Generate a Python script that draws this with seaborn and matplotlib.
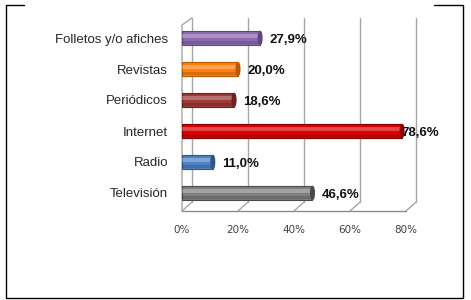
import numpy as np
import pandas as pd
import matplotlib
matplotlib.use('Agg')
import matplotlib.pyplot as plt
import matplotlib.transforms as mtrans
from matplotlib.lines import Line2D
from matplotlib.patches import Ellipse
import seaborn as sns

medios = ['Folletos y/o afiches', 'Revistas', 'Periódicos', 'Internet', 'Radio', 'Televisión']
porcentajes = [27.9, 20.0, 18.6, 78.6, 11.0, 46.6]
etiquetas = ['27,9%', '20,0%', '18,6%', '78,6%', '11,0%', '46,6%']
colores = ['#8A6BB0', '#FF7F0F', '#9B3A38', '#DD0000', '#4F81C7', '#7F7F7F']
bordes = ['#5E4680', '#B85A00', '#6A2322', '#8E0000', '#2F5689', '#4A4A4A']
ticks_x = [0, 20, 40, 60, 80]
ticks_txt = ['0%', '20%', '40%', '60%', '80%']

df = pd.DataFrame({'medio': medios, 'pct': porcentajes})

sns.set_style('white')
plt.rcParams['font.family'] = ['Liberation Sans', 'DejaVu Sans']

W, H = 471, 300
fig = plt.figure(figsize=(W / 100, H / 100), dpi=100)
# axes: x 0..80 -> px 182..406, y px 18..211
ax = fig.add_axes([182 / W, 1 - 211 / H, 224 / W, 193 / H])

sns.barplot(data=df, x='pct', y='medio', hue='medio', palette=colores, legend=False,
            orient='h', width=0.42, ax=ax, zorder=3, saturation=1)
for p, ec in zip(ax.patches, bordes):
    p.set_edgecolor(ec)
    p.set_linewidth(0.8)

ax.set_xlim(0, 80)
ax.set_ylim(5.5 + 2.5 / 31, -0.5 - 4.5 / 31)

# cylinder look: highlight band, lower shade and end cap
for i, v in enumerate(porcentajes):
    ax.barh(i - 0.07, v, height=0.13, color='white', alpha=0.28, zorder=4, linewidth=0)
    ax.barh(i + 0.14, v, height=0.1, color='black', alpha=0.15, zorder=4, linewidth=0)
    ax.add_patch(Ellipse((v, i), width=1.3, height=0.42, facecolor=bordes[i],
                         edgecolor=bordes[i], zorder=5))

# 3D frame (back wall gridlines, floor and left wall)
px_x = 80 / 224
px_y = 1 / 193
dx, dy = 10 * px_x, 9 * px_y
bt = mtrans.blended_transform_factory(ax.transData, ax.transAxes)
gc = '#A6A6A6'
for t in ticks_x:
    ax.plot([t + dx, t + dx], [dy, 1], color=gc, lw=1, transform=bt, zorder=1, clip_on=False)
    ax.plot([t + dx, t], [dy, 0], color=gc, lw=1, transform=bt, zorder=1, clip_on=False)
ax.plot([0, 80], [0, 0], color='#8C8C8C', lw=1, transform=bt, zorder=1, clip_on=False)
ax.plot([0, 0, dx], [0, 1 - 7 * px_y, 1], color=gc, lw=1, transform=bt, zorder=1, clip_on=False)

# value labels
for i, (v, s) in enumerate(zip(porcentajes, etiquetas)):
    ax.text(v + dx * 0.9 if v < 70 else v - 0.2, i + 0.05, s, ha='left', va='center',
            fontsize=9.5, fontweight='bold', color='#111111', zorder=6)

for s in ax.spines.values():
    s.set_visible(False)
ax.set_xticks(ticks_x)
ax.set_xticklabels(ticks_txt, fontsize=7.5, family=['DejaVu Sans'], color='#404040')
ax.tick_params(axis='x', length=0, pad=10)
ax.tick_params(axis='y', length=0, pad=10, labelsize=9.5)
ax.set_xlabel('')
ax.set_ylabel('')
ax.grid(False)

# outer border with gap on top
bc = 'black'
fx = lambda x: x / W
fy = lambda y: 1 - y / H
fig.add_artist(Line2D([fx(24), fx(6), fx(6), fx(463), fx(463), fx(434)],
                      [fy(5), fy(5), fy(298), fy(298), fy(5), fy(5)], color=bc, lw=1))

fig.savefig('out.png', dpi=100)
